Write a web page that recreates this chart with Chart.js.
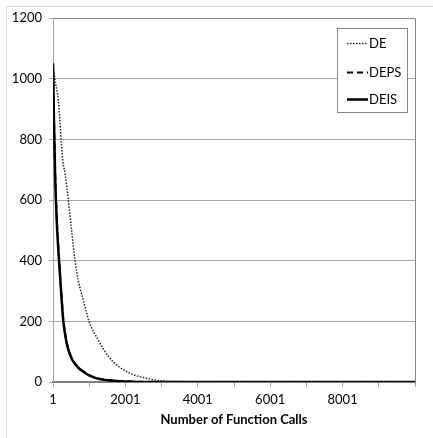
<!DOCTYPE html>
<html>
<head>
<meta charset="utf-8">
<script src="https://cdn.jsdelivr.net/npm/chart.js@4/dist/chart.umd.min.js"></script>
<style>
  html, body { margin: 0; padding: 0; background: #fff; }
  #wrap { width: 433px; height: 438px; position: relative; }
</style>
</head>
<body>
<div id="wrap"><canvas id="chart" width="433" height="438"></canvas></div>
<script>
// --- Data ---
const xTicks = [1, 1001, 2001, 3001, 4001, 5001, 6001, 7001, 8001, 9001, 10001];
const xLabels = ["1", "", "2001", "", "4001", "", "6001", "", "8001", "", ""];
const yTicks = [0, 200, 400, 600, 800, 1000, 1200];

const deX = [1, 50, 147, 270, 332, 424, 515, 609, 700, 838, 1000, 1253, 1576, 2037, 2590, 2960, 3500, 4500, 6000, 10000];
const deY = [1050, 1000, 930, 732, 688, 600, 500, 400, 335, 270, 199, 138, 78, 34, 12, 4, 1.5, 0.3, 0, 0];

const depsX = [1, 30, 60, 103, 167, 241, 286, 379, 470, 562, 700, 838, 1000, 1208, 1667, 2200, 3000, 10000];
const depsY = [1050, 860, 690, 545, 410, 278, 206, 132, 93, 69, 49, 35, 23, 13, 4.5, 1.2, 0, 0];

const deisX = [1, 30, 60, 103, 167, 241, 286, 379, 470, 562, 700, 838, 1000, 1208, 1667, 2200, 3000, 10000];
const deisY = [1050, 850, 680, 534, 400, 270, 200, 128, 90, 67, 47, 34, 22, 12, 4, 1, 0, 0];

const FONT = "Lato, 'Open Sans', sans-serif";
const pts = (xs, ys) => xs.map((x, i) => ({ x, y: ys[i] }));

// legend drawn inside the plot, Excel style
const boxLegend = {
  id: "boxLegend",
  beforeDraw(chart) {
    const ctx = chart.ctx;
    ctx.save();
    ctx.strokeStyle = "#d9d9d9";
    ctx.lineWidth = 1;
    ctx.strokeRect(6.5, 6.5, 500, 500);
    ctx.restore();
  },
  afterDraw(chart) {
    const ctx = chart.ctx;
    ctx.save();
    // plot border top/right
    const a = chart.chartArea;
    ctx.strokeStyle = "#868686";
    ctx.lineWidth = 1;
    ctx.beginPath();
    ctx.moveTo(a.left, a.top + 0.5);
    ctx.lineTo(a.right + 0.5, a.top + 0.5);
    ctx.lineTo(a.right + 0.5, a.bottom);
    ctx.stroke();

    ctx.fillStyle = "#fff";
    ctx.fillRect(337, 28, 70, 84);
    ctx.strokeStyle = "#868686";
    ctx.strokeRect(337.5, 28.5, 70, 84);
    const rows = [43, 72, 99];
    chart.data.datasets.forEach((ds, i) => {
      const y = rows[i];
      ctx.strokeStyle = ds.borderColor;
      ctx.lineWidth = ds.borderWidth;
      ctx.setLineDash(ds.legendDash);
      ctx.beginPath();
      ctx.moveTo(347, y + 0.5);
      ctx.lineTo(368, y + 0.5);
      ctx.stroke();
      ctx.setLineDash([]);
      ctx.fillStyle = "#000";
      ctx.font = "13px " + FONT;
      ctx.textBaseline = "middle";
      ctx.fillText(ds.label, 369, y + 1);
    });
    ctx.restore();
  },
};

new Chart(document.getElementById("chart"), {
  type: "line",
  data: {
    datasets: [
      { label: "DE", data: pts(deX, deY), borderColor: "#222", borderWidth: 1.5, borderDash: [1.5, 1.5], legendDash: [1.5, 1.5] },
      { label: "DEPS", data: pts(depsX, depsY), borderColor: "#000", borderWidth: 2, borderDash: [6, 4], legendDash: [6, 4] },
      { label: "DEIS", data: pts(deisX, deisY), borderColor: "#000", borderWidth: 2.5, borderDash: [], legendDash: [] },
    ],
  },
  options: {
    responsive: false,
    animation: false,
    cubicInterpolationMode: "monotone",
    elements: { point: { radius: 0 } },
    layout: { padding: { left: 6, right: 18, top: 18, bottom: 0 } },
    plugins: { legend: { display: false }, tooltip: { enabled: false } },
    scales: {
      x: {
        type: "linear",
        min: 1,
        max: 10001,
        afterBuildTicks: (s) => { s.ticks = xTicks.map((v) => ({ value: v })); },
        afterFit: (s) => { s.height = 56; },
        border: { color: "#808080", width: 2 },
        grid: { drawOnChartArea: false, drawTicks: true, tickLength: 5, color: "#a6a6a6" },
        ticks: {
          padding: 5,
          maxRotation: 0,
          autoSkip: false,
          color: "#000",
          font: { family: FONT, size: 13 },
          callback: (v) => xLabels[xTicks.indexOf(v)] ?? "",
        },
        title: {
          display: true,
          text: "Number of Function Calls",
          color: "#000",
          font: { family: FONT, size: 13, weight: "bold" },
          padding: { top: 2, bottom: 10 },
        },
      },
      y: {
        min: 0,
        max: 1200,
        afterBuildTicks: (s) => { s.ticks = yTicks.map((v) => ({ value: v })); },
        afterFit: (s) => { s.width = 47; },
        border: { color: "#a6a6a6" },
        grid: { color: "#a6a6a6", tickLength: 4 },
        ticks: { padding: 7, color: "#000", font: { family: FONT, size: 13 }, callback: (v) => String(v) },
      },
    },
  },
  plugins: [boxLegend],
});
</script>
</body>
</html>
